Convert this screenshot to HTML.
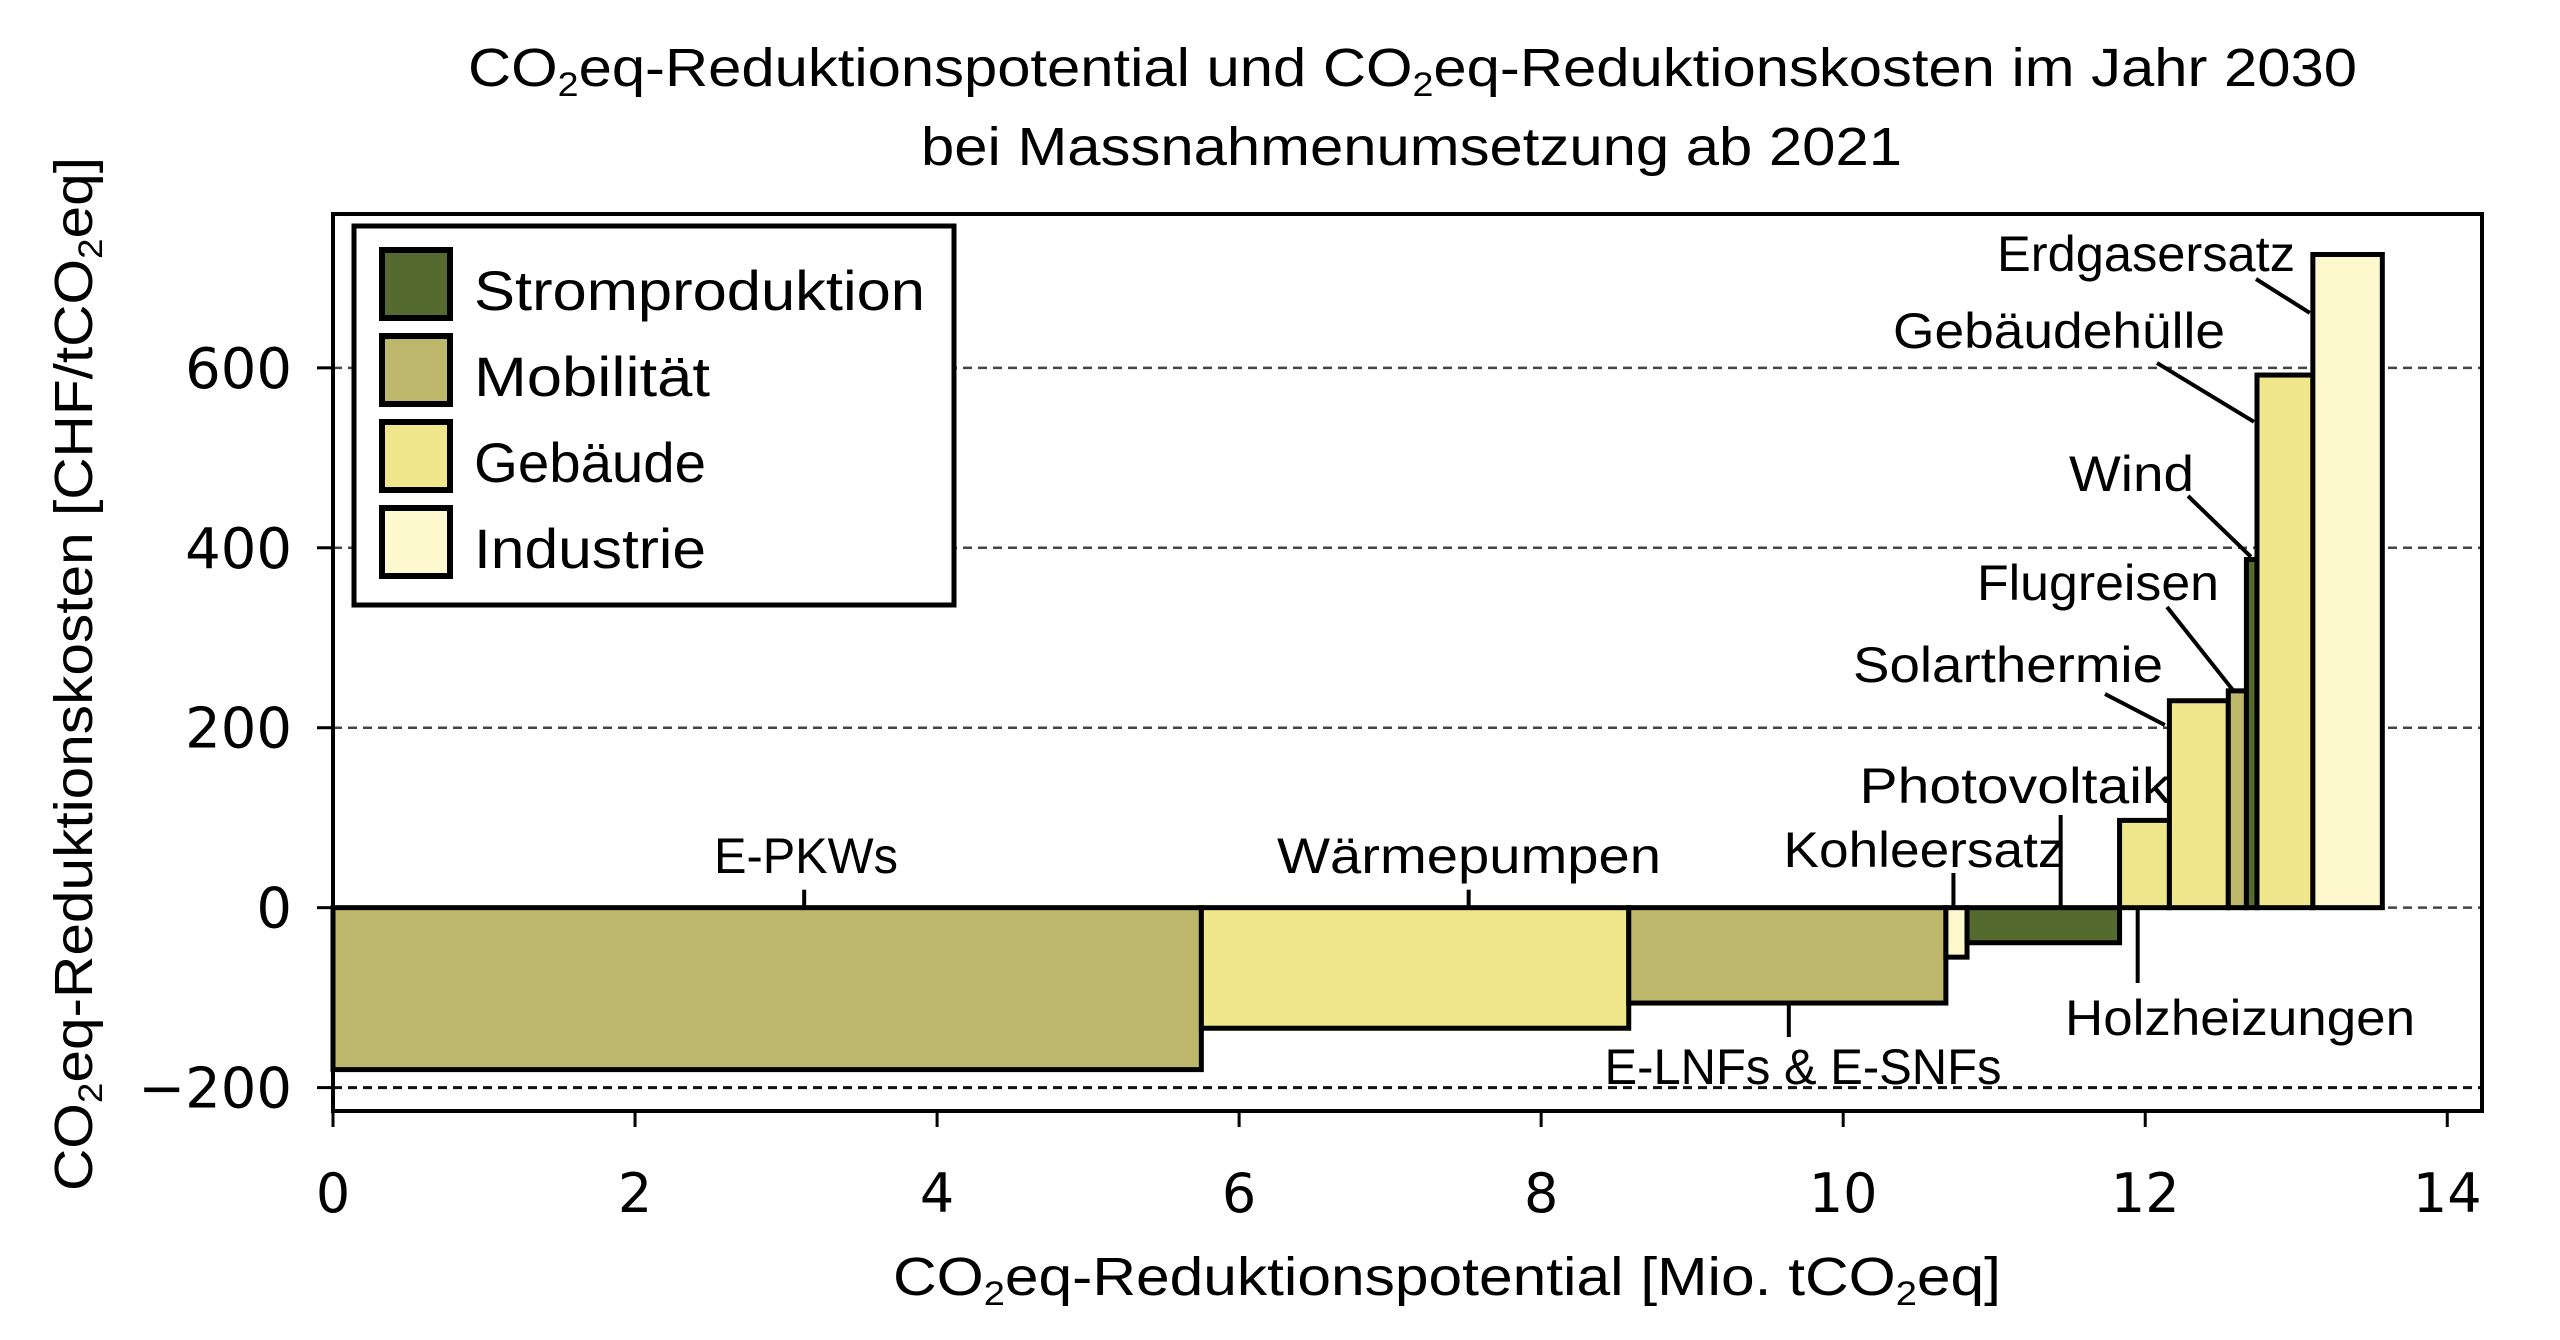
<!DOCTYPE html>
<html><head><meta charset="utf-8"><style>html,body{margin:0;padding:0;background:#fff}svg{display:block}</style></head>
<body>
<svg id="chart" width="2560" height="1340" viewBox="0 0 2560 1340" xmlns="http://www.w3.org/2000/svg" font-family="'Liberation Sans', 'DejaVu Sans', sans-serif">
<g font-size="54" fill="#000">
<text x="468" y="86" textLength="1889" lengthAdjust="spacingAndGlyphs">CO<tspan font-size="34" dy="10">2</tspan><tspan dy="-10">eq-Reduktionspotential und CO</tspan><tspan font-size="34" dy="10">2</tspan><tspan dy="-10">eq-Reduktionskosten im Jahr 2030</tspan></text>
<text x="921" y="165" textLength="981" lengthAdjust="spacingAndGlyphs">bei Massnahmenumsetzung ab 2021</text>
</g>
<g id="grid"></g>
<g id="bars"></g>
<g id="annos"></g>
<rect x="333" y="214" width="2149" height="897" fill="none" stroke="#000" stroke-width="4"/>
<g id="xticks"></g>
<g id="yticks"></g>
<text x="893" y="1295" font-size="54" textLength="1108" lengthAdjust="spacingAndGlyphs">CO<tspan font-size="34" dy="10">2</tspan><tspan dy="-10">eq-Reduktionspotential [Mio. tCO</tspan><tspan font-size="34" dy="10">2</tspan><tspan dy="-10">eq]</tspan></text>
<text transform="translate(92,1191) rotate(-90)" font-size="54" textLength="1034" lengthAdjust="spacingAndGlyphs">CO<tspan font-size="34" dy="10">2</tspan><tspan dy="-10">eq-Reduktionskosten [CHF/tCO</tspan><tspan font-size="34" dy="10">2</tspan><tspan dy="-10">eq]</tspan></text>
<g id="legend"></g>
</svg>
<script>
const categories = ["E-PKWs","Wärmepumpen","E-LNFs & E-SNFs","Kohleersatz","Photovoltaik","Holzheizungen","Solarthermie","Flugreisen","Wind","Gebäudehülle","Erdgasersatz"];
const sectors = ["Mobilität","Gebäude","Mobilität","Industrie","Stromproduktion","Gebäude","Gebäude","Mobilität","Stromproduktion","Gebäude","Industrie"];
const potentials = [5.75,2.83,2.10,0.14,1.01,0.33,0.39,0.12,0.07,0.37,0.46];
const costs = [-180,-134,-106,-55,-39,97,230,241,387,592,726];
const xTicks = [0,2,4,6,8,10,12,14];
const yTicks = [-200,0,200,400,600];
const legendNames = ["Stromproduktion","Mobilität","Gebäude","Industrie"];
const legendColors = ["#546a2e","#bdb76b","#f0e68c","#fdf8cd"];

const NS="http://www.w3.org/2000/svg";
const X0=333,X1=2482,Y0=214,Y1=1111,XMIN=0,XMAX=14.23,YMIN=-226,YMAX=771;
function sx(v){return X0+(v-XMIN)/(XMAX-XMIN)*(X1-X0);}
function sy(v){return Y1-(v-YMIN)/(YMAX-YMIN)*(Y1-Y0);}
function mk(tag,attrs,parent){const e=document.createElementNS(NS,tag);for(const k in attrs)e.setAttribute(k,attrs[k]);parent.appendChild(e);return e;}
const colorOf=s=>legendColors[legendNames.indexOf(s)];

const grid=document.getElementById('grid');
yTicks.forEach(v=>{
  const l=mk('line',{x1:X0,x2:X1,y1:sy(v),y2:sy(v),stroke:v===-200?'#111':'#444','stroke-width':v===-200?3:2.5,'stroke-dasharray':'9,6'},grid);
  
  
});

const bars=document.getElementById('bars');
let cum=0;
categories.forEach((c,i)=>{
  const x=sx(cum),w=sx(cum+potentials[i])-x;
  const yTop=sy(Math.max(0,costs[i])),yBot=sy(Math.min(0,costs[i]));
  const r=mk('rect',{x:x,y:yTop,width:w,height:yBot-yTop,fill:colorOf(sectors[i]),stroke:'#000','stroke-width':5},bars);
  
  
  cum+=potentials[i];
});

const annos=[
 {t:"E-PKWs",x:806,y:873,w:184,a:'middle',p:[sx(3.12),sy(20)],d:[3.12,0]},
 {t:"Wärmepumpen",x:1469,y:873,w:384,a:'middle',p:[sx(7.52),sy(20)],d:[7.52,0]},
 {t:"E-LNFs & E-SNFs",x:1803,y:1084,w:397,a:'middle',p:[sx(9.64),1037],d:[9.64,-106]},
 {t:"Kohleersatz",x:1924,y:867,w:281,a:'middle',p:[sx(10.73),873],d:[10.73,0]},
 {t:"Photovoltaik",x:2015,y:803,w:311,a:'middle',p:[sx(11.44),815],d:[11.44,0]},
 {t:"Holzheizungen",x:2240,y:1035,w:350,a:'middle',p:[sx(11.95),983],d:[11.95,0]},
 {t:"Solarthermie",x:1853,y:682,w:310,a:'start',p:[2105,694],d:[12.13,203]},
 {t:"Flugreisen",x:1977,y:600,w:242,a:'start',p:[2167,607],d:[12.58,242]},
 {t:"Wind",x:2069,y:491,w:125,a:'start',p:[2188,496],d:[12.70,390]},
 {t:"Gebäudehülle",x:1893,y:348,w:332,a:'start',p:[2157,363],d:[12.72,540]},
 {t:"Erdgasersatz",x:1997,y:271,w:298,a:'start',p:[2256,279],d:[13.09,661]}
];
const ag=document.getElementById('annos');
annos.forEach(o=>{
  const l=mk('line',{x1:o.p[0],y1:o.p[1],x2:sx(o.d[0]),y2:sy(o.d[1]),stroke:'#000','stroke-width':4},ag);
  
  
  const t=mk('text',{x:o.x,y:o.y,'font-size':50,'text-anchor':o.a,textLength:o.w,lengthAdjust:'spacingAndGlyphs'},ag);
  t.textContent=o.t;
  
  
});

const xg=document.getElementById('xticks');
xTicks.forEach(v=>{
  const l=mk('line',{x1:sx(v),x2:sx(v),y1:Y1,y2:Y1+16,stroke:'#000','stroke-width':3},xg);
  
  
  const t=mk('text',{x:sx(v),y:1212,'font-size':54,'text-anchor':'middle','font-family':"'DejaVu Sans', sans-serif"},xg);
  t.textContent=String(v);
  
  
});
const yg=document.getElementById('yticks');
yTicks.forEach(v=>{
  const l=mk('line',{x1:X0-16,x2:X0,y1:sy(v),y2:sy(v),stroke:'#000','stroke-width':3},yg);
  
  
  const t=mk('text',{x:292,y:sy(v)+20,'font-size':56,'text-anchor':'end','font-family':"'DejaVu Sans', sans-serif"},yg);
  t.textContent=(v<0?'\u2212':'')+Math.abs(v);
  
  
});

const lg=document.getElementById('legend');
const box=mk('rect',{x:354,y:226,width:600,height:379,fill:'#fff',stroke:'#000','stroke-width':5},lg);


const lw=[451,236,232,232];
legendNames.forEach((n,i)=>{
  const top=250+i*86;
  const r=mk('rect',{x:382,y:top,width:68,height:68,fill:legendColors[i],stroke:'#000','stroke-width':6},lg);
  
  
  const t=mk('text',{x:474,y:top+60,'font-size':56,textLength:lw[i],lengthAdjust:'spacingAndGlyphs'},lg);
  t.textContent=n;
  
  
});
</script>
</body></html>
